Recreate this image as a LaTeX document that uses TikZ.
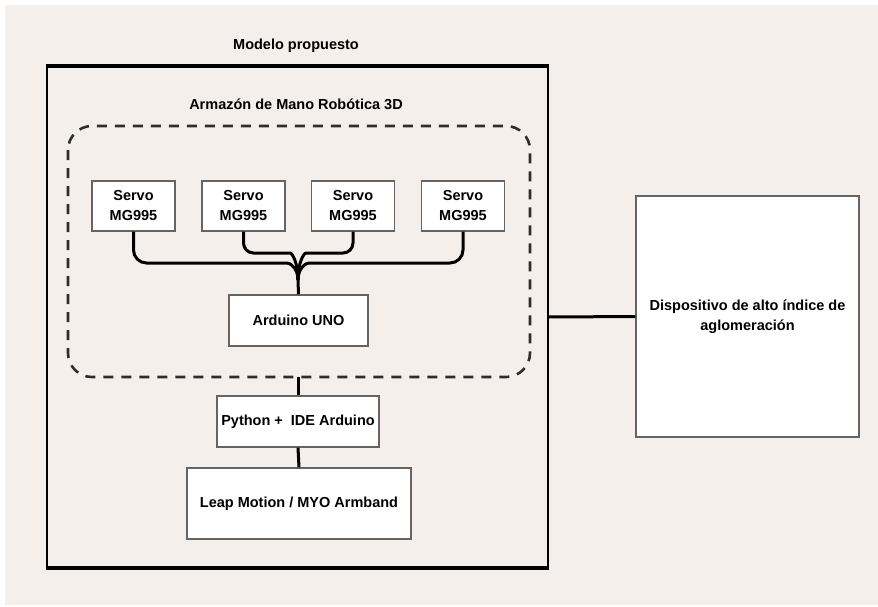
\documentclass[tikz,border=0pt]{standalone}
\usepackage{fontspec}
\setmainfont{Liberation Sans}
\usetikzlibrary{calc}
\definecolor{bgc}{RGB}{244,239,235}
\definecolor{boxline}{RGB}{100,100,100}
\definecolor{dashc}{RGB}{45,45,45}
\tikzset{
  lbl/.style={font=\bfseries\fontsize{14.5}{20}\selectfont, text=black, align=center},
  blk/.style={draw=boxline, line width=1.3pt, fill=white, inner sep=0pt, lbl},
  wire/.style={line width=3pt, black, line join=round},
}
\begin{document}
\begin{tikzpicture}[x=1pt,y=-1pt]
\useasboundingbox (0,0) rectangle (878,606);
\fill[bgc] (5,5) rectangle (878,605);
% outer box
\draw[black, line width=2pt] (47,66) rectangle (548,568);
\draw[black, line width=3.2pt] (46,66) -- (549,66);
\draw[black, line width=3.2pt] (46,568) -- (549,568);
\node[lbl] (title) at (296,46) {Modelo propuesto};
\node[lbl] (armz) at (296,104) {Armazón de Mano Robótica 3D};
% dashed frame
\draw[dashc, line width=2.6pt, dash pattern=on 10pt off 8pt, rounded corners=24pt] (68,126) rectangle (530,377);
\coordinate (dashbot) at (298,377);
% servos
\node[blk, minimum width=83pt, minimum height=50pt] (s1) at (133.5,206) {Servo\\MG995};
\node[blk, minimum width=83pt, minimum height=50pt] (s2) at (243.5,206) {Servo\\MG995};
\node[blk, minimum width=83pt, minimum height=50pt] (s3) at (353,206) {Servo\\MG995};
\node[blk, minimum width=83pt, minimum height=50pt] (s4) at (463,206) {Servo\\MG995};
\node[blk, minimum width=139pt, minimum height=51pt] (ard) at (298.5,320.5) {Arduino UNO};
\node[blk, minimum width=162pt, minimum height=51pt] (py) at (298,421.5) {Python +\ \ IDE Arduino};
\node[blk, minimum width=224pt, minimum height=71pt] (leap) at (299,503.5) {Leap Motion / MYO Armband};
\node[blk, minimum width=223pt, minimum height=241pt] (disp) at (747.5,316.5) {Dispositivo de alto índice de\\aglomeración};
\coordinate (j) at (298,280);
\coordinate (outr) at (548,317);
% wires
\draw[wire, rounded corners=13pt] (s1.south) |- (274,263) .. controls (290,263) and (298,268) .. (j);
\draw[wire, rounded corners=13pt] (s4.south) |- (322,263) .. controls (306,263) and (298,268) .. (j);
\draw[wire, rounded corners=10pt] (s2.south) |- (280,253) .. controls (292,253) and (298,262) .. (j);
\draw[wire, rounded corners=10pt] (s3.south) |- (316,253) .. controls (304,253) and (298,262) .. (j);
\draw[wire] (j) -- (ard.north);
\draw[wire] (dashbot) -- (py.north);
\draw[wire] (py.south) -- (leap.north);
\draw[wire] (outr) -- (disp.west);
\end{tikzpicture}
\end{document}
